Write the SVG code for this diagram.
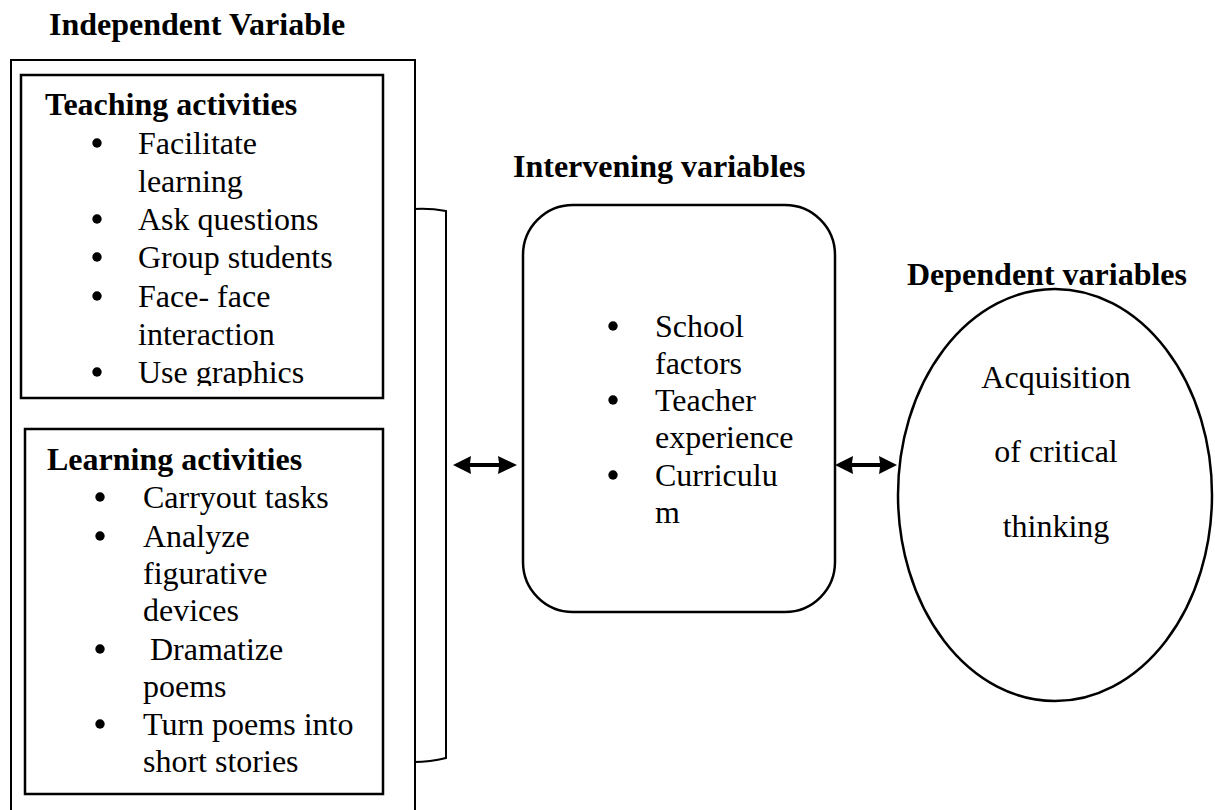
<svg xmlns="http://www.w3.org/2000/svg" width="1215" height="810" viewBox="0 0 1215 810">
<style>
text{font-family:"Liberation Serif","Times New Roman",serif;font-size:32px;fill:#000}
.b{font-weight:bold}
.box{fill:none;stroke:#000;stroke-width:2.5}
.thin{fill:none;stroke:#000;stroke-width:2}
.dot{fill:#000}
.arr{fill:#000;stroke:none}
.c{text-anchor:middle}
</style>
<defs>
<clipPath id="tclip"><rect x="0" y="60" width="400" height="326"/></clipPath>
</defs>
<rect width="1215" height="810" fill="#fff"/>

<g id="independent">
<text class="b" x="49" y="35">Independent Variable</text>
<path class="thin" d="M11,812 L11,60 L415,60 L415,812"/>
</g>

<g id="teaching">
<rect class="box" x="21" y="75" width="362" height="323"/>
<g clip-path="url(#tclip)">
<text class="b" x="45" y="115">Teaching activities</text>
<circle class="dot" cx="97" cy="143" r="4.7"/><text x="138" y="154">Facilitate</text>
<text x="138" y="192">learning</text>
<circle class="dot" cx="97" cy="219" r="4.7"/><text x="138" y="230">Ask questions</text>
<circle class="dot" cx="97" cy="257" r="4.7"/><text x="138" y="268">Group students</text>
<circle class="dot" cx="97" cy="296" r="4.7"/><text x="138" y="307">Face- face</text>
<text x="138" y="345">interaction</text>
<circle class="dot" cx="97" cy="372" r="4.7"/><text x="138" y="383">Use graphics</text>
</g>
</g>

<g id="learning">
<rect class="box" x="25" y="429" width="358" height="365"/>
<text class="b" x="47" y="470">Learning activities</text>
<circle class="dot" cx="100" cy="497" r="4.7"/><text x="143" y="508">Carryout tasks</text>
<circle class="dot" cx="100" cy="536" r="4.7"/><text x="143" y="547">Analyze</text>
<text x="143" y="584">figurative</text>
<text x="143" y="621">devices</text>
<circle class="dot" cx="100" cy="649" r="4.7"/><text x="150" y="660">Dramatize</text>
<text x="143" y="697">poems</text>
<circle class="dot" cx="100" cy="724" r="4.7"/><text x="143" y="735">Turn poems into</text>
<text x="143" y="772">short stories</text>
</g>

<g id="intervening">
<text class="b" x="513" y="177">Intervening variables</text>
<rect class="box" x="523" y="205" width="312" height="407" rx="50" ry="50"/>
<circle class="dot" cx="613" cy="326" r="4.7"/><text x="655" y="337">School</text>
<text x="655" y="374">factors</text>
<circle class="dot" cx="613" cy="400" r="4.7"/><text x="655" y="411">Teacher</text>
<text x="655" y="448">experience</text>
<circle class="dot" cx="613" cy="475" r="4.7"/><text x="655" y="486">Curriculu</text>
<text x="655" y="523">m</text>
</g>

<g id="dependent">
<ellipse class="box" cx="1055" cy="495" rx="157" ry="206"/>
<text class="b" x="907" y="285">Dependent variables</text>
<text class="c" x="1056" y="388">Acquisition</text>
<text class="c" x="1056" y="462">of critical</text>
<text class="c" x="1056" y="537">thinking</text>
</g>

<g id="connectors">
<path class="thin" d="M414,209 Q430,208 446,211 L446,758 Q430,762 414,762"/>
<polygon class="arr" points="453,465 471,456 470,463 499,463 498,456 517,465 498,474 499,467 470,467 471,474"/>
<polygon class="arr" points="835,465 853,456 852,463 880,463 879,456 897,465 879,474 880,467 852,467 853,474"/>
</g>
</svg>
